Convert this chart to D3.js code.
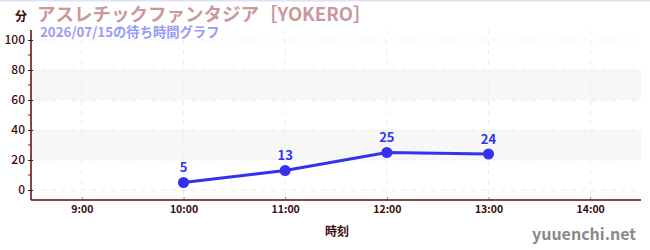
<!DOCTYPE html>
<html><head><meta charset="utf-8">
<script src="https://cdn.jsdelivr.net/npm/d3@7"></script>
<style>body{margin:0;background:#fff;}svg{display:block;}</style>
</head><body>
<script>
const times = ["10:00","11:00","12:00","13:00"];
const waits = [5,13,25,24];
const xTickLabels = ["9:00","10:00","11:00","12:00","13:00","14:00"];
const yTicks = [0,20,40,60,80,100];
const yMinor = [10,30,50,70,90];
const bands = [[20,40],[60,80]];
const title = "アスレチックファンタジア［YOKERO］";
const subtitle = "2026/07/15の待ち時間グラフ";
const yUnit = "分";
const xTitle = "時刻";
const watermark = "yuuenchi.net";

const W=650,H=250;
const F='"Noto Sans CJK JP","Noto Sans",sans-serif';
const axisColor="#5a0a0a";
const svg=d3.select("body").append("svg").attr("width",W).attr("height",H);
const toH=s=>{const [h,m]=s.split(":").map(Number);return h+m/60;};
const x=d3.scaleLinear().domain([8.5,14.5]).range([31,641]);
const y=d3.scaleLinear().domain([-6.667,106.667]).range([200,30]);

svg.append("rect").attr("x",0).attr("y",0).attr("width",W).attr("height",1.5).attr("fill","#e2e2f6");

// bands
svg.selectAll(".band").data(bands).enter().append("rect")
 .attr("x",x(8.5)).attr("width",x(14.5)-x(8.5))
 .attr("y",d=>y(d[1])).attr("height",d=>y(d[0])-y(d[1])).attr("fill","#f7f7f7");
// grid
svg.selectAll(".hg").data(yTicks).enter().append("line")
 .attr("x1",x(8.5)).attr("x2",x(14.5)).attr("y1",d=>y(d)).attr("y2",d=>y(d))
 .attr("stroke","#ececec").attr("stroke-dasharray","5,5");
svg.selectAll(".vg").data(xTickLabels).enter().append("line")
 .attr("x1",d=>x(toH(d))).attr("x2",d=>x(toH(d))).attr("y1",30).attr("y2",200)
 .attr("stroke","#ececec").attr("stroke-dasharray","5,5");

// axes
const ya=svg.append("g").attr("transform",`translate(${x(8.5)},0)`)
 .call(d3.axisLeft(y).tickValues(yTicks).tickSize(3).tickSizeOuter(0).tickPadding(3));
ya.select(".domain").remove();
ya.selectAll("line").attr("stroke","#222").attr("x2",2).attr("x1",-3);
ya.selectAll("text").attr("font-family",F).attr("font-size",12).attr("font-weight",500).attr("fill","#3a0a0a");
svg.selectAll(".mn").data(yMinor).enter().append("line")
 .attr("x1",x(8.5)-3).attr("x2",x(8.5)).attr("y1",d=>y(d)).attr("y2",d=>y(d)).attr("stroke","#e00000");
svg.append("line").attr("x1",x(8.5)).attr("x2",x(8.5)).attr("y1",30).attr("y2",200).attr("stroke",axisColor).attr("stroke-width",1.5);

const xa=svg.append("g").attr("transform",`translate(0,200)`)
 .call(d3.axisBottom(x).tickValues(xTickLabels.map(toH)).tickFormat((d,i)=>xTickLabels[i]).tickSize(-3).tickSizeOuter(0).tickPadding(6));
xa.select(".domain").remove();
xa.selectAll("line").attr("stroke","#888").attr("y1",-3).attr("y2",0);
xa.selectAll("text").attr("font-family",F).attr("font-size",10.5).attr("font-weight",700).attr("fill","#3a0a0a");
svg.append("line").attr("x1",x(8.5)).attr("x2",x(14.5)).attr("y1",200).attr("y2",200).attr("stroke",axisColor).attr("stroke-width",1.5);

// line
const pts=times.map((t,i)=>({x:toH(t),v:waits[i]}));
svg.append("path").datum(pts).attr("fill","none").attr("stroke","#3333ee").attr("stroke-width",3)
 .attr("d",d3.line().x(d=>x(d.x)).y(d=>y(d.v)));
svg.selectAll(".pt").data(pts).enter().append("circle")
 .attr("cx",d=>x(d.x)).attr("cy",d=>y(d.v)).attr("r",5.5).attr("fill","#3333ee");
svg.selectAll(".lb").data(pts).enter().append("text")
 .attr("x",d=>x(d.x)).attr("y",d=>y(d.v)-10).attr("text-anchor","middle")
 .attr("font-family",F).attr("font-size",13).attr("font-weight",700).attr("fill","#3333ee").text(d=>d.v);

// texts
svg.append("text").attr("x",37).attr("y",21).attr("font-family",F).attr("font-size",18.5).attr("font-weight",700).attr("fill","#c9999b").text(title);
svg.append("text").attr("x",40).attr("y",36.5).attr("font-family",F).attr("font-size",13.3).attr("font-weight",700).attr("fill","#9a9af8").text(subtitle);
svg.append("text").attr("x",21).attr("y",21).attr("text-anchor","middle").attr("font-family",F).attr("font-size",12).attr("font-weight",700).attr("fill","#3a0a0a").text(yUnit);
svg.append("text").attr("x",337).attr("y",236).attr("text-anchor","middle").attr("font-family",F).attr("font-size",12).attr("font-weight",700).attr("fill","#3a0a0a").text(xTitle);
svg.append("text").attr("x",636).attr("y",240).attr("text-anchor","end").attr("font-family",F).attr("font-size",16).attr("font-weight",700).attr("fill","#8a8a8a").text(watermark);
</script>
</body></html>
